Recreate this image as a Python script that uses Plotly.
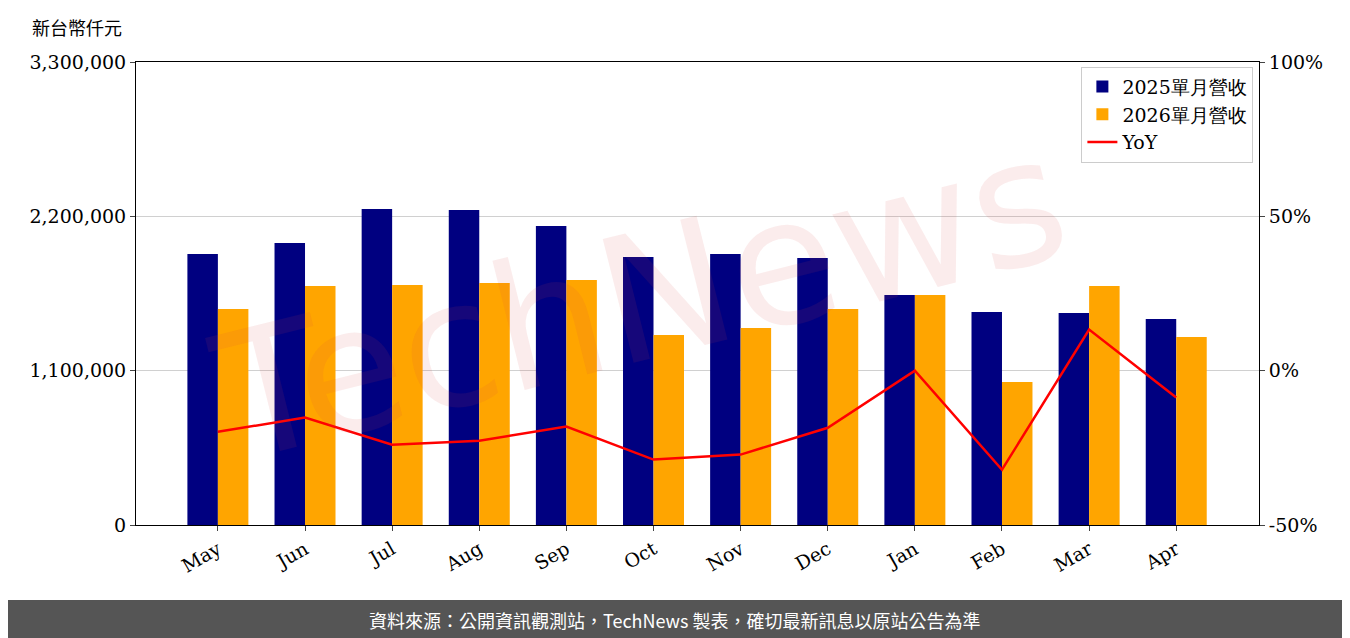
import plotly.graph_objects as go

months = ["May","Jun","Jul","Aug","Sep","Oct","Nov","Dec","Jan","Feb","Mar","Apr"]
rev_2025 = [1932000,2010000,2252000,2245000,2131000,1910000,1932000,1903000,1639000,1518000,1511000,1468000]
rev_2026 = [1540000,1703000,1711000,1725000,1746000,1354000,1404000,1540000,1639000,1019000,1703000,1340000]
yoy = [-19.8,-15.2,-24.0,-22.7,-18.1,-28.8,-27.2,-18.5,0.0,-32.1,13.3,-8.7]
yoy_ticks = [-50, 0, 50, 100]

x = list(range(len(months)))
fig = go.Figure()
fig.add_bar(x=x, y=rev_2025, name="2025單月營收", marker_color="#000080", width=0.35, offset=-0.35, marker_line_width=0)
fig.add_bar(x=x, y=rev_2026, name="2026單月營收", marker_color="#FFA500", width=0.35, offset=0, marker_line_width=0)
fig.add_scatter(x=x, y=yoy, name="YoY", mode="lines", line=dict(color="#FF0000", width=2.5), yaxis="y2")

serif = "DejaVu Serif"
fig.update_layout(
    width=1342, height=630, margin=dict(l=128, r=91, t=54, b=113),
    plot_bgcolor="white", paper_bgcolor="white",
    font=dict(family=serif, size=19, color="black"),
    barmode="overlay", showlegend=True,
    xaxis=dict(range=[-0.94, 11.95], tickvals=x, ticktext=months, tickangle=-30,
               showline=True, linecolor="black", mirror=True, ticks="outside", showgrid=False, zeroline=False),
    yaxis=dict(range=[0, 3300000], tickvals=[0,1100000,2200000,3300000], tickformat=",",
               showgrid=True, gridcolor="#d0d0d0", showline=True, linecolor="black", ticks="outside", zeroline=False),
    yaxis2=dict(range=[-50, 100], overlaying="y", side="right", tickvals=yoy_ticks,
                ticktext=[f"{v}%" for v in yoy_ticks],
                showgrid=False, showline=True, linecolor="black", ticks="outside", zeroline=False),
    legend=dict(x=0.995, y=0.99, xanchor="right", yanchor="top", bordercolor="#cccccc", borderwidth=1,
                bgcolor="rgba(255,255,255,0.8)", font=dict(size=19)),
)
fig.add_annotation(text="TechNews", xref="paper", yref="paper", x=0.45, y=0.49, showarrow=False,
                   textangle=-14, font=dict(size=175, color="rgba(220,70,70,0.1)", family="DejaVu Sans"))
fig.add_annotation(text="新台幣仟元", xref="paper", yref="paper", x=-0.094, y=1.076, xanchor="left", yanchor="middle",
                   showarrow=False, font=dict(size=18, family="Noto Sans CJK TC"))
fig.add_shape(type="rect", xref="paper", yref="paper", x0=-0.2, x1=1.2, y0=-0.3, y1=-0.162,
              fillcolor="#555555", line_width=0, layer="below")
fig.add_annotation(text="資料來源：公開資訊觀測站，TechNews 製表，確切最新訊息以原站公告為準", xref="paper", yref="paper",
                   x=0.48, y=-0.205, yanchor="middle", showarrow=False,
                   font=dict(size=18, color="white", family="Noto Sans CJK TC"))
fig.write_html("out.html")
